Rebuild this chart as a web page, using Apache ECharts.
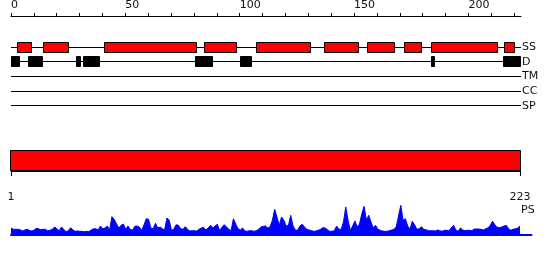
<!DOCTYPE html>
<html><head><meta charset="utf-8">
<script src="https://cdn.jsdelivr.net/npm/echarts@6/dist/echarts.min.js"></script>
<style>html,body{margin:0;padding:0;background:#fff}#c{width:550px;height:260px}</style>
</head><body><div id="c"></div>
<script>
// ---- data ----
const trackNames = ['SS', 'D', 'TM', 'CC', 'SP'];
const seqLength = 223;
const topTicks = [0, 10, 20, 30, 40, 50, 60, 70, 80, 90, 100, 110, 120, 130, 140, 150, 160, 170, 180, 190, 200, 210, 220];
const topTickLabels = [0, 50, 100, 150, 200];
const bottomTickLabels = [1, 223];
// secondary structure helices [start, end]
const ssHelices = [[2.5, 9], [14, 25.5], [40.5, 81.5], [84.5, 99], [107, 131], [137, 152], [155.5, 168], [172, 179.5], [183.5, 213], [215.5, 220.5]];
// disordered regions [start, end]
const disorderRegions = [[0, 4], [7.5, 14], [28.5, 30.5], [31.5, 39], [80.5, 88.5], [100, 105.5], [183.5, 185.5], [215, 223]];
// per-residue PS profile (residues 1..223)
const psValues = [
  7, 5.7, 5.7, 5.7, 5.3, 4, 5, 5.7, 4.7, 4,
  4.7, 6.7, 6.3, 5.3, 5.7, 5.7, 4.3, 4.7, 5.7, 8,
  6.3, 4.3, 8, 5.7, 3.3, 4.3, 7.3, 5, 3.7, 4,
  3.7, 3.7, 3.3, 3.7, 3.3, 5, 6.3, 6.3, 5, 9,
  6.3, 7, 9, 5, 18.3, 15.7, 11.3, 7, 9.7, 11,
  5.7, 9, 5.7, 4.7, 8.7, 9, 8, 4.7, 10, 16.3,
  15.7, 7, 6.3, 11.7, 7, 8, 6.3, 5, 17, 14.7,
  4.7, 5.7, 10.3, 9.7, 6.3, 5.7, 8.3, 5.7, 4, 4.3,
  4.3, 4, 5.7, 7, 7.7, 5, 7, 9.7, 7, 9,
  10.7, 4.3, 7.7, 10.3, 8, 5.7, 4.3, 16.3, 11, 6.3,
  5, 7, 4, 3.7, 4.3, 4.3, 3.7, 4.3, 5.7, 8, 8.7,
  9, 7, 8.3, 14.7, 25.7, 18, 9.7, 18, 14.7,
  9, 9.7, 19.7, 9, 5, 4.7, 9, 10.7, 8, 5.7,
  5, 4.3, 3.7, 4, 4.7, 5.7, 7.3, 7, 5.3, 3.7,
  3.7, 4.3, 9, 5.7, 5.7, 13, 28, 14.7, 4.7, 9,
  14, 8, 11, 21.3, 28.7, 14.7, 19.7, 13, 7, 9.7,
  5.7, 4.7, 4, 3.7, 3.7, 4.3, 5,
  5.7, 8, 19,
  29.7, 14.7, 16.3, 9, 5.7, 13.7, 10.3, 5.7, 6.3, 8.3,
  5.7, 5.3, 4.3, 4.3, 4.3, 4, 5, 4.3, 3.7, 4.7,
  4.7, 4.3, 7, 9.7, 5, 3.7, 7, 5, 4.3, 4.7,
  4.7, 4.3, 6, 6, 6, 5.7, 5, 6.3, 7, 9.7,
  13.7, 10.3, 7.7, 7.3, 8, 9, 9.7, 6.3, 4.7, 5.7,
  6.3, 7, 9
];

// ---- chart ----
const FONT = 'DejaVu Sans';
const chart = echarts.init(document.getElementById('c'), null, {renderer: 'canvas'});

function segRenderer(fill, halfH) {
  return function (params, api) {
    const s = api.coord([api.value(0), api.value(2)]);
    const e = api.coord([api.value(1), api.value(2)]);
    const x0 = Math.round(s[0]) + 0.5, x1 = Math.round(e[0]) - 0.5;
    const yc = Math.floor(s[1]) + 0.5;
    return {type: 'rect', shape: {x: x0, y: yc - halfH, width: x1 - x0, height: 2 * halfH},
      style: {fill: fill, stroke: '#000', lineWidth: 1}};
  };
}

const trackLineData = trackNames.map((n, i) => [0, seqLength, i]);
const ssData = ssHelices.map(h => [h[0], h[1], 0]);
const dData = disorderRegions.map(h => [h[0], h[1], 1]);

chart.setOption({
  animation: false,
  grid: [
    {left: 11, width: 510, top: 38, height: 75},
    {left: 11, width: 509, top: 150, height: 21},
    {left: 11, width: 520.5, top: 205, height: 30}
  ],
  xAxis: [
    {gridIndex: 0, type: 'value', position: 'top', offset: 24, min: 0, max: seqLength,
      axisLine: {show: true, lineStyle: {color: '#000', width: 1}},
      axisTick: {show: true, inside: false, length: 3, customValues: topTicks, lineStyle: {color: '#000'}},
      axisLabel: {show: true, customValues: topTickLabels, align: 'left', margin: 5,
        fontFamily: FONT, fontSize: 11, color: '#111'},
      splitLine: {show: false}},
    {gridIndex: 1, type: 'value', position: 'bottom', offset: 9, min: 1, max: seqLength,
      axisLine: {show: true, lineStyle: {color: '#000', width: 1}},
      axisTick: {show: true, inside: false, length: 5, customValues: bottomTickLabels, lineStyle: {color: '#000'}},
      axisLabel: {show: true, customValues: bottomTickLabels, margin: 12,
        fontFamily: FONT, fontSize: 11, color: '#111'},
      splitLine: {show: false}},
    {gridIndex: 2, type: 'value', min: 1, max: 228,
      axisLine: {show: true, onZero: false, lineStyle: {color: '#0000ff', width: 2}},
      axisTick: {show: false}, axisLabel: {show: false}, splitLine: {show: false}}
  ],
  yAxis: [
    {gridIndex: 0, type: 'category', data: trackNames, inverse: true, position: 'right',
      axisLine: {show: false}, axisTick: {show: false}, splitLine: {show: false},
      axisLabel: {margin: 1, fontFamily: FONT, fontSize: 11, color: '#111'}},
    {gridIndex: 1, type: 'value', min: 0, max: 1, show: false},
    {gridIndex: 2, type: 'value', min: 0, max: 30, show: false}
  ],
  graphic: [
    {type: 'text', left: 521, top: 205, style: {text: 'PS', font: '11px "DejaVu Sans"', fill: '#111'}}
  ],
  series: [
    {type: 'custom', xAxisIndex: 0, yAxisIndex: 0, data: trackLineData, encode: {x: [0, 1], y: 2},
      renderItem: function (params, api) {
        const s = api.coord([api.value(0), api.value(2)]);
        const e = api.coord([api.value(1), api.value(2)]);
        const y = Math.floor(s[1]) + 0.5;
        return {type: 'line', shape: {x1: s[0], y1: y, x2: e[0], y2: y}, style: {stroke: '#000', lineWidth: 1}};
      }, z: 1},
    {type: 'custom', xAxisIndex: 0, yAxisIndex: 0, data: ssData, encode: {x: [0, 1], y: 2},
      renderItem: segRenderer('#ff0000', 5), z: 2},
    {type: 'custom', xAxisIndex: 0, yAxisIndex: 0, data: dData, encode: {x: [0, 1], y: 2},
      renderItem: segRenderer('#000000', 5), z: 2},
    {type: 'custom', xAxisIndex: 1, yAxisIndex: 1, data: [[1, seqLength]], encode: {x: [0, 1]},
      renderItem: function (params, api) {
        const a = api.coord([api.value(0), 1]);
        const b = api.coord([api.value(1), 0]);
        return {type: 'rect', shape: {x: a[0] - 0.5, y: a[1] + 0.5, width: b[0] - a[0] + 1, height: b[1] - a[1] - 1},
          style: {fill: '#ff0000', stroke: '#000', lineWidth: 1}};
      }},
    {type: 'line', xAxisIndex: 2, yAxisIndex: 2, data: psValues.map((v, i) => [i + 1, v]),
      showSymbol: false, smooth: false,
      lineStyle: {color: '#0000ff', width: 1}, areaStyle: {color: '#0000ff', opacity: 1}, z: 3}
  ]
});
</script></body></html>
